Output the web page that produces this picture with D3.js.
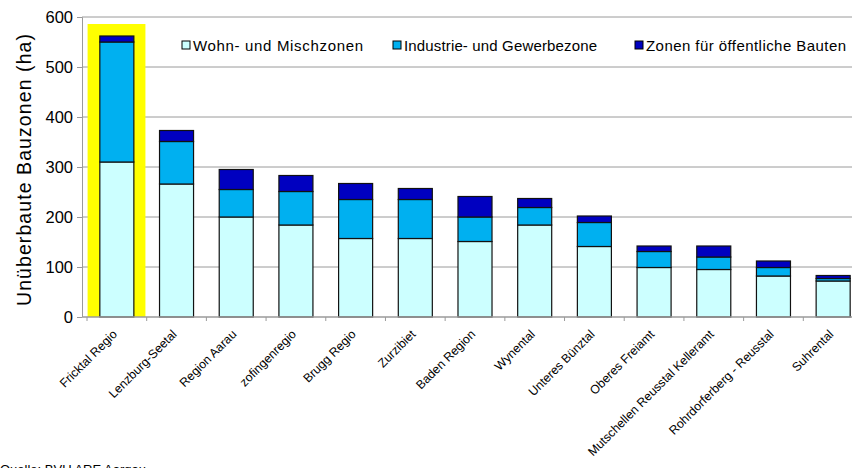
<!DOCTYPE html>
<html>
<head>
<meta charset="utf-8">
<script src="https://cdn.jsdelivr.net/npm/d3@7"></script>
<style>
  body { margin: 0; background: #fff; }
  svg { font-family: "Liberation Sans", Arial, sans-serif; display: block; }
</style>
</head>
<body>
<svg id="chart" width="852" height="468"></svg>
<script>
const regions = ["Fricktal Regio", "Lenzburg-Seetal", "Region Aarau", "zofingenregio", "Brugg Regio",
  "Zurzibiet", "Baden Region", "Wynental", "Unteres Bünztal", "Oberes Freiamt",
  "Mutschellen Reusstal Kelleramt", "Rohrdorferberg - Reusstal", "Suhrental"]
const wohn = [310, 266, 200, 184, 157, 157, 151, 184, 141, 99, 95, 82, 72]
const industrie = [240, 85, 55, 67, 78, 78, 49, 35, 48, 32, 25, 17, 5]
const oeffentlich = [12, 22, 40, 32, 32, 22, 41, 18, 13, 11, 22, 13, 6]
const seriesNames = ["Wohn- und Mischzonen", "Industrie- und Gewerbezone", "Zonen für öffentliche Bauten"]
const colors = ["#CCFFFF", "#00B0F0", "#0000C0"]
const yTicks = [0, 100, 200, 300, 400, 500, 600]
const highlight = "Fricktal Regio"

const margin = {top: 17, left: 87, bottom: 151}
const width = 776, height = 300  // plot runs past the right edge, like the original

const svg = d3.select("#chart")
const g = svg.append("g").attr("transform", "translate(" + margin.left + "," + margin.top + ")")

const x = d3.scaleBand().domain(regions).range([0, width]).paddingInner(0.43).paddingOuter(0.215)
const y = d3.scaleLinear().domain([0, 600]).range([height, 0])

// gridlines
g.selectAll(".grid").data(yTicks.slice(1)).enter().append("line")
  .attr("x1", -5).attr("x2", width)
  .attr("y1", d => y(d)).attr("y2", d => y(d))
  .attr("stroke", "#9a9a9a").attr("stroke-width", 1)

// yellow box behind the first bar
const step = x.step()
g.append("rect")
  .attr("x", x(highlight) - x.bandwidth() * 0.36)
  .attr("y", y(586))
  .attr("width", x.bandwidth() * 1.7)
  .attr("height", height - y(586))
  .attr("fill", "#FFFF00")

// stacked bars
const rows = regions.map((r, i) => ({region: r, w: wohn[i], ind: industrie[i], oe: oeffentlich[i]}))
const stack = d3.stack().keys(["w", "ind", "oe"])(rows)

g.selectAll(".layer").data(stack).enter().append("g")
  .attr("fill", (d, i) => colors[i])
  .selectAll("rect").data(d => d).enter().append("rect")
  .attr("x", d => x(d.data.region))
  .attr("y", d => y(d[1]))
  .attr("width", x.bandwidth())
  .attr("height", d => y(d[0]) - y(d[1]))
  .attr("stroke", "#111").attr("stroke-width", 1.2)

// y axis
const yAxis = g.append("g").call(d3.axisLeft(y).tickValues(yTicks).tickSize(5).tickPadding(4))
yAxis.select(".domain").attr("stroke", "#9a9a9a").attr("d", "M-5,0.5H0.5V" + height)
yAxis.selectAll(".tick line").attr("stroke", "#9a9a9a")
yAxis.selectAll("text").attr("font-size", 16.5).attr("fill", "#000")
yAxis.attr("transform", "translate(-5,0)")

// x axis
const xAxis = g.append("g").attr("transform", "translate(0," + height + ")")
xAxis.append("line").attr("x1", -5).attr("x2", width).attr("stroke", "#9a9a9a").attr("stroke-width", 1.5)
xAxis.selectAll(".xt").data(regions).enter().append("line")
  .attr("x1", d => x(d) - (step - x.bandwidth()) / 2).attr("x2", d => x(d) - (step - x.bandwidth()) / 2)
  .attr("y1", 0).attr("y2", 4).attr("stroke", "#9a9a9a")
xAxis.selectAll(".xl").data(regions).enter().append("text")
  .attr("transform", d => "translate(" + (x(d) + x.bandwidth() / 2 + 1) + ",18) rotate(-45)")
  .attr("text-anchor", "end")
  .attr("font-size", 12.3)
  .text(d => d)

// y title
svg.append("text")
  .attr("transform", "translate(31,170) rotate(-90)")
  .attr("text-anchor", "middle")
  .attr("font-size", 19.5)
  .attr("textLength", 272).attr("lengthAdjust", "spacing")
  .text("Unüberbaute Bauzonen (ha)")

// legend
const legendX = [182, 393, 635]
const legendW = [170, 193, 200]
const legend = svg.selectAll(".legend").data(seriesNames).enter().append("g")
  .attr("transform", (d, i) => "translate(" + legendX[i] + ",45)")
legend.append("rect").attr("x", 0).attr("y", -4).attr("width", 8).attr("height", 8)
  .attr("fill", (d, i) => colors[i]).attr("stroke", "#000").attr("stroke-width", 1)
legend.append("text").attr("x", 11).attr("y", 6).attr("font-size", 15)
  .attr("textLength", (d, i) => legendW[i]).attr("lengthAdjust", "spacing")
  .text(d => d)

// source note, cut off at the bottom as in the original
svg.append("text").attr("x", 0).attr("y", 474).attr("font-size", 13).text("Quelle: BVU ARE Aargau")
</script>
</body>
</html>
